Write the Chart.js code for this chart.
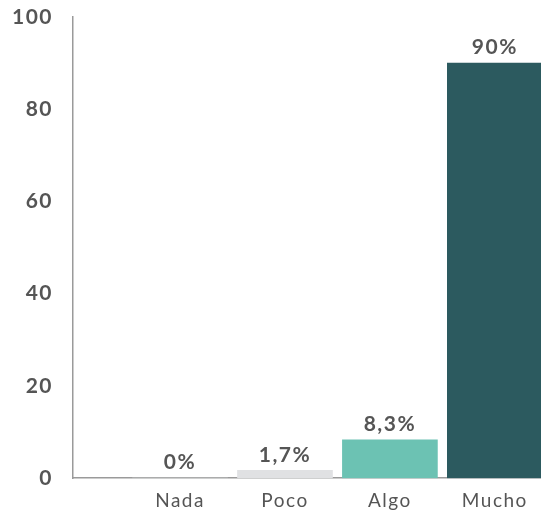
<!DOCTYPE html>
<html>
<head>
<meta charset="utf-8">
<script src="https://cdn.jsdelivr.net/npm/chart.js@4.4.1/dist/chart.umd.min.js"></script>
<style>
  html, body { margin: 0; padding: 0; background: #fff; }
  #wrap { width: 541px; height: 515px; }
</style>
</head>
<body>
<div id="wrap"><canvas id="grafico"></canvas></div>
<script>
// datos
var categorias = ["Nada", "Poco", "Algo", "Mucho"];
var valores = [0, 1.7, 8.3, 90];
var colores = ["#e0e1e3", "#e0e1e3", "#6cc2b3", "#2c5a5f"];
var ticksY = [0, 20, 40, 60, 80, 100];

var gris = "#555555";
var fuente = "Lato, 'DejaVu Sans', sans-serif";

// espaciado entre letras (la fuente original es más ancha)
function espaciar(chart){
  if ('letterSpacing' in chart.ctx) chart.ctx.letterSpacing = "1.5px";
}
var espaciado = {
  id: 'espaciado',
  beforeUpdate: espaciar,
  beforeLayout: espaciar,
  beforeDraw: espaciar
};

// etiquetas de porcentaje encima de cada barra
var etiquetas = {
  id: 'etiquetas',
  afterDatasetsDraw: function(chart){
    var ctx = chart.ctx;
    var meta = chart.getDatasetMeta(0);
    ctx.save();
    ctx.fillStyle = gris;
    ctx.font = "bold 21px " + fuente;
    ctx.textAlign = "center";
    ctx.textBaseline = "bottom";
    meta.data.forEach(function(bar, i){
      var txt = String(valores[i]).replace(".", ",") + "%";
      ctx.fillText(txt, bar.x, bar.y - 5);
    });
    ctx.restore();
  }
};

new Chart(document.getElementById('grafico').getContext('2d'), {
  type: 'bar',
  data: {
    datasets: [{
      data: valores.map(function(v, i){ return {x: i, y: v}; }),
      backgroundColor: colores,
      barThickness: 95
    }]
  },
  options: {
    responsive: true,
    maintainAspectRatio: false,
    animation: false,
    layout: { padding: { top: 17, right: 0, bottom: 0, left: 0 } },
    plugins: { legend: { display: false }, tooltip: { enabled: false } },
    scales: {
      x: {
        type: 'linear',
        offset: false,
        min: -1.02,
        max: 3.44,
        grid: { display: false },
        border: { color: "#9a9a9a", width: 1.5 },
        afterBuildTicks: function(scale){
          scale.ticks = categorias.map(function(c, i){ return {value: i}; });
        },
        ticks: {
          autoSkip: false,
          maxRotation: 0,
          padding: 3,
          color: gris,
          font: { family: fuente, size: 19 },
          callback: function(v){ return categorias[v]; }
        }
      },
      y: {
        min: 0,
        max: 100,
        grid: { display: false },
        border: { color: "#9a9a9a", width: 1.5 },
        afterBuildTicks: function(scale){
          scale.ticks = ticksY.map(function(v){ return {value: v}; });
        },
        afterFit: function(scale){
          scale.paddingTop = 0;
        },
        ticks: {
          padding: 12,
          color: gris,
          font: { family: fuente, size: 21, weight: 'bold' }
        }
      }
    }
  },
  plugins: [espaciado, etiquetas]
});
</script>
</body>
</html>
